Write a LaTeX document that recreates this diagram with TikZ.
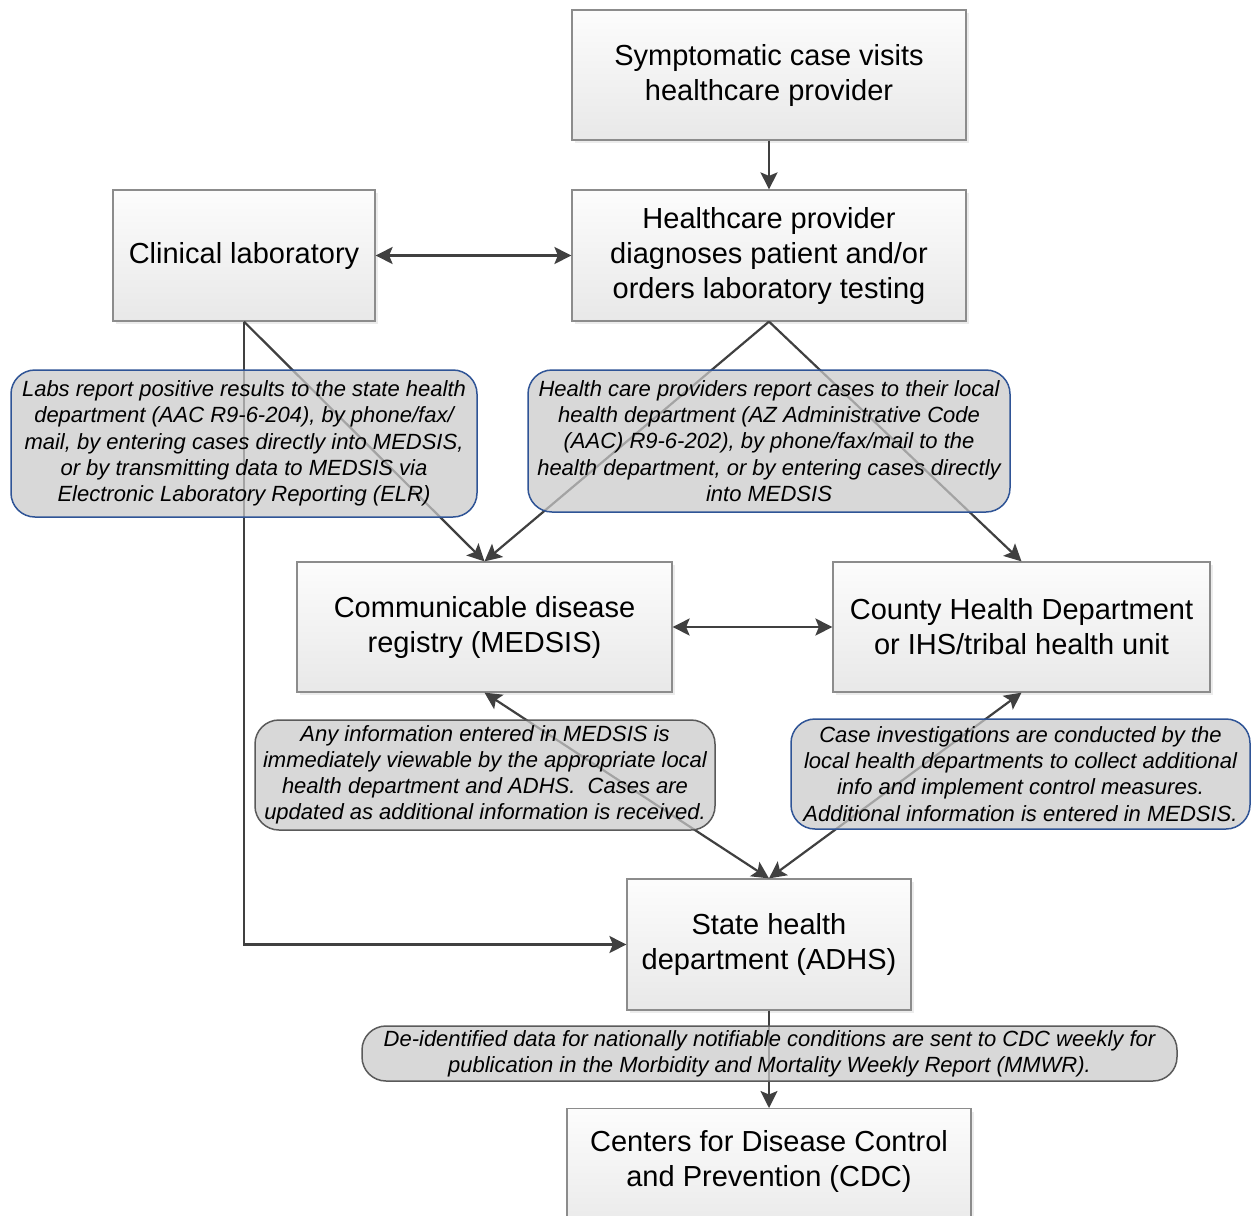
\documentclass[tikz,border=0pt]{standalone}
\usepackage{fontspec}
\setmainfont{Liberation Sans}
\usetikzlibrary{arrows.meta,shadows}
\definecolor{ln}{HTML}{404040}
\definecolor{bx}{HTML}{8C8C8C}
\definecolor{bl}{HTML}{2F5496}
\definecolor{gb}{HTML}{5A5A5A}
\definecolor{bf}{HTML}{CACACA}
\tikzset{
  box/.style={draw=bx, line width=1.2pt, top color=white!99!black, bottom color=white!91!black,
    align=center, font=\fontsize{29}{35}\selectfont,
    drop shadow={shadow xshift=3pt, shadow yshift=-3pt, fill=black!14}},
  boxtext/.style={align=center, font=\fontsize{29}{35}\selectfont, inner sep=0pt},
  bubble/.style={rounded corners=24pt, fill=bf, fill opacity=0.72, text opacity=1, draw opacity=1,
    line width=1.5pt, align=center, font=\fontsize{22}{26.2}\selectfont\itshape, inner sep=0pt},
  tip/.tip={Stealth[length=17pt,width=17pt,inset=3.5pt]},
  conn/.style={draw=ln, line width=2.2pt, -tip},
  both/.style={draw=ln, line width=2.2pt, tip-tip},
}
\begin{document}
\begin{tikzpicture}[x=1pt,y=-1pt]
\useasboundingbox (0,0) rectangle (1251,1216);
\clip (0,0) rectangle (1251,1216);
\fill[white] (0,0) rectangle (1251,1216);

% boxes
\node[box, minimum width=394pt, minimum height=130pt] (s1) at (769,75) {Symptomatic case visits\\healthcare provider};
\node[box, minimum width=394pt, minimum height=131pt] (s2) at (769,255.5) {Healthcare provider\\diagnoses patient and/or\\orders laboratory testing};
\node[box, minimum width=262pt, minimum height=131pt] (lab) at (244,255.5) {Clinical laboratory};
\node[box, minimum width=375pt, minimum height=130pt] (reg) at (484.5,627) {Communicable disease\\registry (MEDSIS)};
\node[box, minimum width=377pt, minimum height=130pt] (cty) at (1021.5,627) {County Health Department\\or IHS/tribal health unit};
\node[box, minimum width=284pt, minimum height=131pt] (adhs) at (769,944.5) {State health\\department (ADHS)};
\node[box, minimum width=404pt, minimum height=130pt, anchor=north] (cdc) at (769,1108) {};
\node[boxtext] (cdct) at (769,1161) {Centers for Disease Control\\and Prevention (CDC)};

% connectors
\draw[conn] (s1.south) -- (s2.north);
\draw[both] (lab.east) -- (s2.west);
\draw[conn] (lab.south) -- (reg.north);
\draw[conn] (lab.south) |- (adhs.west);
\draw[conn] (s2.south) -- (reg.north);
\draw[conn] (s2.south) -- (cty.north);
\draw[both] (reg.east) -- (cty.west);
\draw[both] (adhs.north) -- (reg.south);
\draw[both] (adhs.north) -- (cty.south);
\draw[conn] (adhs.south) -- (cdc.north);

% bubbles
\node[bubble, draw=bl, minimum width=466pt, minimum height=147pt] (b1) at (244,443.5)
  {Labs report positive results to the state health\\department (AAC R9-6-204), by phone/fax/\\mail, by entering cases directly into MEDSIS,\\or by transmitting data to MEDSIS via\\Electronic Laboratory Reporting (ELR)};
\node[bubble, draw=bl, minimum width=482pt, minimum height=142pt] (b2) at (769,441)
  {Health care providers report cases to their local\\health department (AZ Administrative Code\\(AAC) R9-6-202), by phone/fax/mail to the\\health department, or by entering cases directly\\into MEDSIS};
\node[bubble, draw=gb, minimum width=460pt, minimum height=110pt] (b3) at (485,775)
  {Any information entered in MEDSIS is\\immediately viewable by the appropriate local\\health department and ADHS.\ \ Cases are\\updated as additional information is received.};
\node[bubble, draw=bl, minimum width=459pt, minimum height=110pt] (b4) at (1020.5,774)
  {Case investigations are conducted by the\\local health departments to collect additional\\info and implement control measures.\\Additional information is entered in MEDSIS.};
\node[bubble, draw=gb, minimum width=815pt, minimum height=55pt] (b5) at (769.5,1053.5)
  {De-identified data for nationally notifiable conditions are sent to CDC weekly for\\publication in the Morbidity and Mortality Weekly Report (MMWR).};
\end{tikzpicture}
\end{document}
